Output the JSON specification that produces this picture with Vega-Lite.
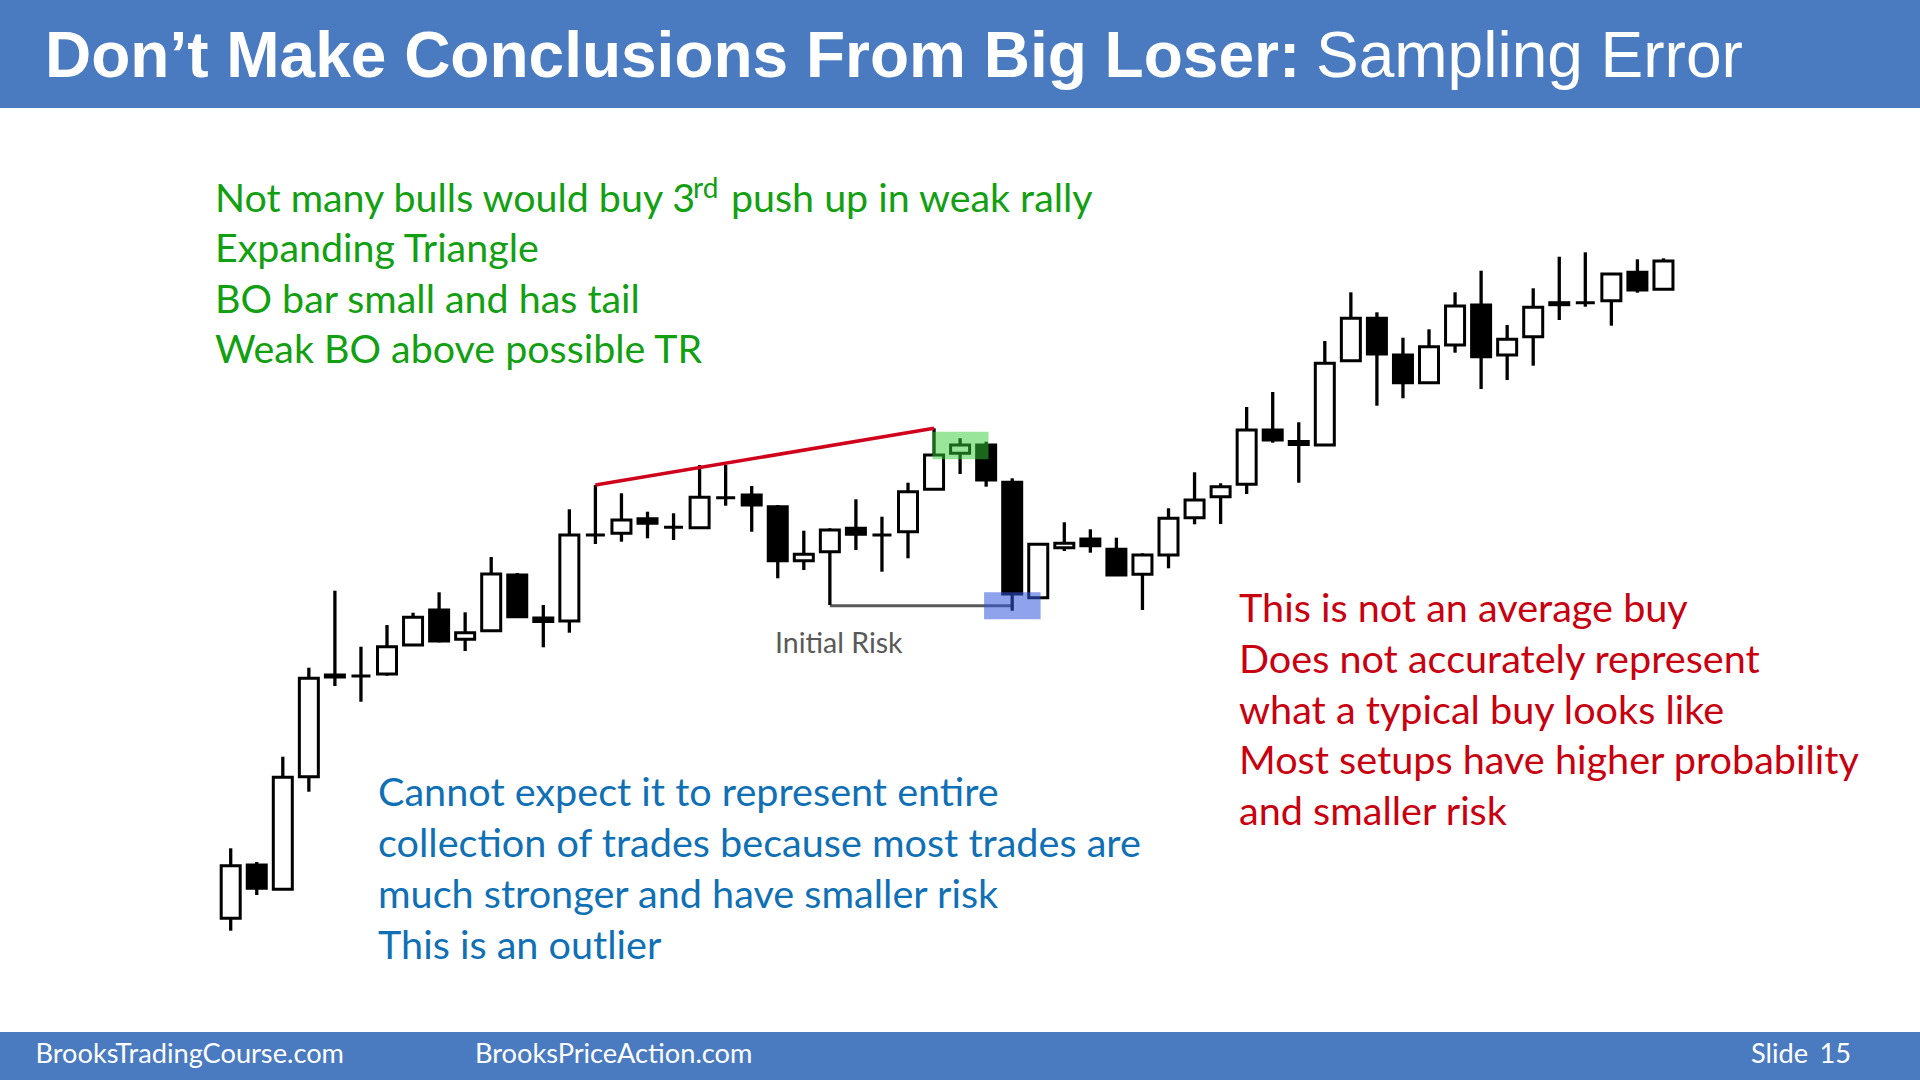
{
  "$schema": "https://vega.github.io/schema/vega-lite/v6.json",
  "width": 1920,
  "height": 1080,
  "autosize": {"type": "fit", "contains": "padding"},
  "padding": 0,
  "background": "white",
  "config": {"view": {"stroke": null}},
  "datasets": {
    "candles": [
      {"i":1,"o":161.7,"h":231.7,"l":149.3,"c":214.3},
      {"i":2,"o":215,"h":218,"l":185,"c":191.7},
      {"i":3,"o":190.7,"h":323.3,"l":190.7,"c":302.7},
      {"i":4,"o":303.3,"h":412.3,"l":288.3,"c":401.7},
      {"i":5,"o":405,"h":489.3,"l":394,"c":403},
      {"i":6,"o":404,"h":433.3,"l":378.3,"c":404},
      {"i":7,"o":406,"h":455,"l":404.3,"c":433.3},
      {"i":8,"o":435,"h":467.3,"l":435,"c":462.7},
      {"i":9,"o":470,"h":487.7,"l":437.7,"c":439},
      {"i":10,"o":440.7,"h":467.7,"l":429,"c":447.3},
      {"i":11,"o":449.3,"h":523,"l":449.3,"c":506},
      {"i":12,"o":505,"h":507,"l":462,"c":463.3},
      {"i":13,"o":462,"h":475,"l":432.7,"c":458.5},
      {"i":14,"o":459,"h":570.7,"l":447.3,"c":545},
      {"i":15,"o":545,"h":595,"l":536,"c":545},
      {"i":16,"o":546.7,"h":586.7,"l":538.3,"c":560},
      {"i":17,"o":561.3,"h":568.3,"l":541.7,"c":556.7},
      {"i":18,"o":552.7,"h":566.7,"l":540,"c":552.7},
      {"i":19,"o":552.3,"h":615,"l":552.3,"c":582.7},
      {"i":20,"o":582.3,"h":615,"l":574.3,"c":582.3},
      {"i":21,"o":585,"h":594,"l":548.3,"c":575},
      {"i":22,"o":573.3,"h":575,"l":501.7,"c":519.3},
      {"i":23,"o":519.3,"h":549.3,"l":510,"c":525.7},
      {"i":24,"o":528.3,"h":551.7,"l":475,"c":550},
      {"i":25,"o":551.7,"h":580.7,"l":530,"c":545.7},
      {"i":26,"o":545,"h":563.3,"l":508.3,"c":545},
      {"i":27,"o":548.3,"h":597.3,"l":521.7,"c":588.3},
      {"i":28,"o":590.7,"h":651.7,"l":590.7,"c":625},
      {"i":29,"o":626.7,"h":641.7,"l":606,"c":635},
      {"i":30,"o":635,"h":638.3,"l":593.3,"c":600},
      {"i":31,"o":597.7,"h":601.7,"l":469.3,"c":486},
      {"i":32,"o":482.3,"h":535.7,"l":482.3,"c":535.7},
      {"i":33,"o":532.3,"h":557.7,"l":529,"c":536.7},
      {"i":34,"o":541,"h":550.7,"l":527.3,"c":534.3},
      {"i":35,"o":530.7,"h":542.3,"l":505,"c":505},
      {"i":36,"o":505.7,"h":526.7,"l":470,"c":525},
      {"i":37,"o":525,"h":571.7,"l":511.7,"c":561.7},
      {"i":38,"o":562.3,"h":607.7,"l":555.7,"c":580},
      {"i":39,"o":583.3,"h":596.7,"l":556,"c":593.3},
      {"i":40,"o":595.7,"h":673,"l":586,"c":650},
      {"i":41,"o":650,"h":688,"l":637.3,"c":640},
      {"i":42,"o":638.5,"h":657.7,"l":597.3,"c":635.5},
      {"i":43,"o":635,"h":739,"l":635,"c":716.7},
      {"i":44,"o":719.3,"h":787.7,"l":719.3,"c":761.7},
      {"i":45,"o":761.7,"h":767.7,"l":674.3,"c":726},
      {"i":46,"o":725,"h":742.3,"l":681.7,"c":697.3},
      {"i":47,"o":697.3,"h":750.7,"l":697.3,"c":733.3},
      {"i":48,"o":735,"h":787.7,"l":727.3,"c":774},
      {"i":49,"o":775,"h":809.3,"l":691,"c":723.3},
      {"i":50,"o":725,"h":755,"l":700,"c":740.7},
      {"i":51,"o":743.3,"h":791.7,"l":714.3,"c":772.7},
      {"i":52,"o":777.3,"h":823.3,"l":760,"c":775.3},
      {"i":53,"o":777.3,"h":827.7,"l":773.3,"c":777.3},
      {"i":54,"o":779.3,"h":806,"l":754.3,"c":806},
      {"i":55,"o":807.7,"h":820.7,"l":787.3,"c":790},
      {"i":56,"o":790.7,"h":821.7,"l":790.7,"c":819}
    ]
  },
  "layer": [
    {
      "data": {"values": [{"i": -7.856, "i2": 65.848, "p": 972, "p2": 1080}, {"i": -7.856, "i2": 65.848, "p": 0, "p2": 48}]},
      "mark": {"type": "rect", "fill": "#4a7bc1"},
      "encoding": {
        "x": {"field": "i", "type": "quantitative", "scale": {"domain": [-7.856, 65.848], "nice": false, "zero": false, "padding": 0}, "axis": null},
        "x2": {"field": "i2"},
        "y": {"field": "p", "type": "quantitative", "scale": {"domain": [0, 1080], "nice": false, "zero": false, "padding": 0}, "axis": null},
        "y2": {"field": "p2"}
      }
    },
    {
      "data": {"values": [{"i": 24, "i2": 31.03, "p": 474.3}]},
      "mark": {"type": "rule", "stroke": "#595959", "strokeWidth": 3},
      "encoding": {
        "x": {"field": "i", "type": "quantitative"},
        "x2": {"field": "i2"},
        "y": {"field": "p", "type": "quantitative"}
      }
    },
    {
      "data": {"name": "candles"},
      "mark": {"type": "rule", "stroke": "black", "strokeWidth": 3.3},
      "encoding": {
        "x": {"field": "i", "type": "quantitative"},
        "y": {"field": "l", "type": "quantitative"},
        "y2": {"field": "h"}
      }
    },
    {
      "data": {"name": "candles"},
      "mark": {"type": "bar", "size": 19, "stroke": "black", "strokeWidth": 3, "cornerRadius": 0},
      "encoding": {
        "x": {"field": "i", "type": "quantitative"},
        "y": {"field": "o", "type": "quantitative"},
        "y2": {"field": "c"},
        "fill": {"condition": {"test": "datum.c >= datum.o", "value": "white"}, "value": "black"}
      }
    },
    {
      "data": {"values": [{"i": 15, "i2": 28, "p": 595, "p2": 651.7}]},
      "mark": {"type": "rule", "stroke": "#d0021b", "strokeWidth": 3.5},
      "encoding": {
        "x": {"field": "i", "type": "quantitative"},
        "x2": {"field": "i2"},
        "y": {"field": "p", "type": "quantitative"},
        "y2": {"field": "p2"}
      }
    },
    {
      "data": {"values": [{"i": 27.94, "i2": 30.09, "p": 620.7, "p2": 648.3}]},
      "mark": {"type": "rect", "fill": "#33cc33", "opacity": 0.5},
      "encoding": {
        "x": {"field": "i", "type": "quantitative"},
        "x2": {"field": "i2"},
        "y": {"field": "p", "type": "quantitative"},
        "y2": {"field": "p2"}
      }
    },
    {
      "data": {"values": [{"i": 29.92, "i2": 32.09, "p": 460.7, "p2": 487.7}]},
      "mark": {"type": "rect", "fill": "#3355dd", "opacity": 0.55},
      "encoding": {
        "x": {"field": "i", "type": "quantitative"},
        "x2": {"field": "i2"},
        "y": {"field": "p", "type": "quantitative"},
        "y2": {"field": "p2"}
      }
    },
    {
      "data": {"values": [
        {"i": 0.397, "p": 868.5, "t": "Not many bulls would buy 3"},
        {"i": 20.205, "p": 868.5, "t": "push up in weak rally"},
        {"i": 0.397, "p": 818, "t": "Expanding Triangle"},
        {"i": 0.397, "p": 767.5, "t": "BO bar small and has tail"},
        {"i": 0.397, "p": 717, "t": "Weak BO above possible TR"}
      ]},
      "mark": {"type": "text", "align": "left", "baseline": "alphabetic", "font": "Lato", "fontSize": 39.4, "fill": "#12a012"},
      "encoding": {
        "x": {"field": "i", "type": "quantitative"},
        "y": {"field": "p", "type": "quantitative"},
        "text": {"field": "t"}
      }
    },
    {
      "data": {"values": [{"i": 18.75, "p": 882, "t": "rd"}]},
      "mark": {"type": "text", "align": "left", "baseline": "alphabetic", "font": "Lato", "fontSize": 28, "fill": "#12a012"},
      "encoding": {
        "x": {"field": "i", "type": "quantitative"},
        "y": {"field": "p", "type": "quantitative"},
        "text": {"field": "t"}
      }
    },
    {
      "data": {"values": [
        {"i": 6.655, "p": 274.3, "t": "Cannot expect it to represent entire"},
        {"i": 6.655, "p": 223.3, "t": "collection of trades because most trades are"},
        {"i": 6.655, "p": 172.3, "t": "much stronger and have smaller risk"},
        {"i": 6.655, "p": 121, "t": "This is an outlier"}
      ]},
      "mark": {"type": "text", "align": "left", "baseline": "alphabetic", "font": "Lato", "fontSize": 39.6, "fill": "#1070b5"},
      "encoding": {
        "x": {"field": "i", "type": "quantitative"},
        "y": {"field": "p", "type": "quantitative"},
        "text": {"field": "t"}
      }
    },
    {
      "data": {"values": [
        {"i": 39.707, "p": 457.7, "t": "This is not an average buy"},
        {"i": 39.707, "p": 407.1, "t": "Does not accurately represent"},
        {"i": 39.707, "p": 356.4, "t": "what a typical buy looks like"},
        {"i": 39.707, "p": 305.7, "t": "Most setups have higher probability"},
        {"i": 39.707, "p": 255, "t": "and smaller risk"}
      ]},
      "mark": {"type": "text", "align": "left", "baseline": "alphabetic", "font": "Lato", "fontSize": 39.6, "fill": "#c8000f"},
      "encoding": {
        "x": {"field": "i", "type": "quantitative"},
        "y": {"field": "p", "type": "quantitative"},
        "text": {"field": "t"}
      }
    },
    {
      "data": {"values": [{"i": 21.894, "p": 427, "t": "Initial Risk"}]},
      "mark": {"type": "text", "align": "left", "baseline": "alphabetic", "font": "Lato", "fontSize": 28.5, "fill": "#595959"},
      "encoding": {
        "x": {"field": "i", "type": "quantitative"},
        "y": {"field": "p", "type": "quantitative"},
        "text": {"field": "t"}
      }
    },
    {
      "data": {"values": [{"i": -6.129, "p": 1003, "t": "Don’t Make Conclusions From Big Loser:"}]},
      "mark": {"type": "text", "align": "left", "baseline": "alphabetic", "font": "Liberation Sans", "fontWeight": "bold", "fontSize": 64, "fill": "white"},
      "encoding": {
        "x": {"field": "i", "type": "quantitative"},
        "y": {"field": "p", "type": "quantitative"},
        "text": {"field": "t"}
      }
    },
    {
      "data": {"values": [{"i": 42.662, "p": 1003, "t": "Sampling Error"}]},
      "mark": {"type": "text", "align": "left", "baseline": "alphabetic", "font": "Liberation Sans", "fontSize": 64, "fill": "white"},
      "encoding": {
        "x": {"field": "i", "type": "quantitative"},
        "y": {"field": "p", "type": "quantitative"},
        "text": {"field": "t"}
      }
    },
    {
      "data": {"values": [
        {"i": -6.493, "p": 17, "t": "BrooksTradingCourse.com"},
        {"i": 10.378, "p": 17, "t": "BrooksPriceAction.com"},
        {"i": 59.36, "p": 17, "t": "Slide"}
      ]},
      "mark": {"type": "text", "align": "left", "baseline": "alphabetic", "font": "Lato", "fontSize": 27.2, "fill": "white"},
      "encoding": {
        "x": {"field": "i", "type": "quantitative"},
        "y": {"field": "p", "type": "quantitative"},
        "text": {"field": "t"}
      }
    },
    {
      "data": {"values": [{"i": 63.2, "p": 17, "t": "15"}]},
      "mark": {"type": "text", "align": "right", "baseline": "alphabetic", "font": "Lato", "fontSize": 27.2, "fill": "white"},
      "encoding": {
        "x": {"field": "i", "type": "quantitative"},
        "y": {"field": "p", "type": "quantitative"},
        "text": {"field": "t"}
      }
    }
  ]
}
